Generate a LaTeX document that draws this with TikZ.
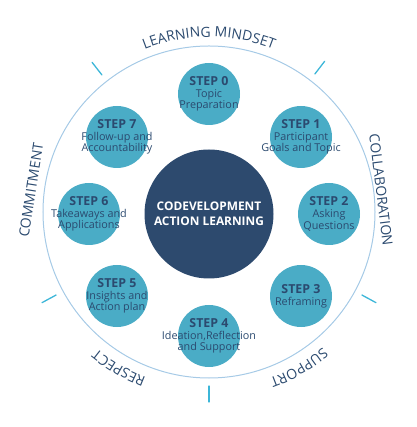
\documentclass[tikz,border=0pt]{standalone}
\usepackage{fontspec}
\setmainfont{Open Sans}
\usetikzlibrary{decorations.text}
\definecolor{CycleStep}{HTML}{4AACC6}
\definecolor{CycleCore}{HTML}{2D4A6E}
\definecolor{CycleInk}{HTML}{2B4A6F}
\definecolor{CycleRing}{HTML}{A6CAE6}
\definecolor{CycleTick}{HTML}{3CB6D8}
\tikzset{
    cycle/diagram/.style={
        line cap=round,
        line join=round,
        every node/.style={inner sep=1pt, outer sep=0pt}
    },
    cycle/ring/.style={draw=CycleRing, line width=1pt},
    cycle/tick/.style={draw=CycleTick, line width=1.3pt},
    cycle/core/.style={
        circle, fill=CycleCore, draw=none, minimum size=129pt,
        align=center, text=white, font=\fontsize{11.9}{15}\selectfont\bfseries
    },
    cycle/step/.style={circle, fill=CycleStep, draw=none, minimum size=62pt},
    cycle/steptext/.style={
        align=center, text=CycleInk, font=\fontsize{10.8}{11.8}\selectfont
    },
    cycle/side/.style={text=CycleInk, font=\fontsize{14}{14}\selectfont, inner sep=0pt},
    cycle/arclabel/.style={
        decorate,
        decoration={text along path, text align=center, text color=CycleInk,
            text={|\fontsize{14}{14}\selectfont|#1}}
    }
}

\begin{document}
\begin{tikzpicture}[cycle/diagram, x=1pt, y=1pt]
    \useasboundingbox (-209,-215) rectangle (207,212);
    \draw[cycle/ring] (0,0) circle[radius=166];
    \foreach \a in {52.5,128,208.5,-28.5,-90}
        \draw[cycle/tick] (\a:174) -- (\a:190);
    \path[cycle/arclabel=LEARNING MINDSET]
        (140:175) arc[start angle=140, end angle=40, radius=175];
    \path[cycle/arclabel=SUPPORT]
        (-25:177) arc[start angle=-25, end angle=-95, radius=177];
    \path[cycle/arclabel=RESPECT]
        (-85:177) arc[start angle=-85, end angle=-155, radius=177];
    \node[cycle/side, rotate=-83] (collab) at (172,22) {COLLABORATION};
    \node[cycle/side, rotate=81] (commit) at (-178,22) {COMMITMENT};
    \node[cycle/core] (core) at (0,-2) {CODEVELOPMENT\\ACTION LEARNING};
    \foreach \n/\x/\y/\txt in {0/0/118/{Topic\\Preparation},
        1/92/75/{Participant\\Goals and Topic},
        2/120/-2/{Asking\\Questions},
        3/92/-84/{Reframing},
        4/0/-124/{Ideation,Reflection\\and Support},
        5/-92/-84/{Insights and\\Action plan},
        6/-120/-2/{Takeaways and\\Applications},
        7/-92/75/{Follow-up and\\Accountability}} {
        \node[cycle/step] (step\n) at (\x,\y) {};
        \node[cycle/steptext] (text\n) at (step\n)
            {{\fontsize{12.4}{12.4}\selectfont\bfseries STEP \n}\\\txt};
    }
\end{tikzpicture}
\end{document}
